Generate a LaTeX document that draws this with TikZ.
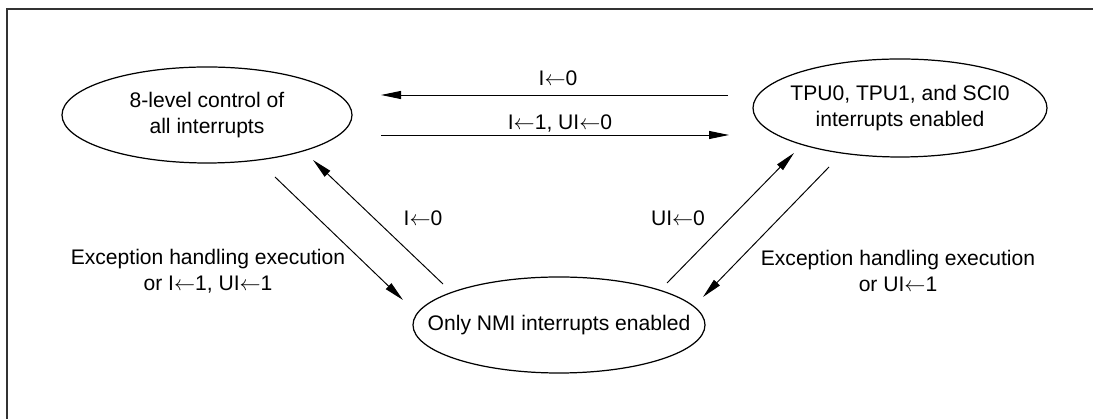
\documentclass[tikz,border=0pt]{standalone}
\usepackage{fontspec}
\setmainfont{Liberation Sans}
\usepackage{tikz}
\usetikzlibrary{arrows.meta,positioning,shapes,shapes.geometric,calc}

\newcommand{\asg}{\ensuremath{\leftarrow}}

\tikzset{
  lbl/.style={align=center, inner sep=0pt, font=\fontsize{12}{14.8}\selectfont},
  ring/.style={line width=0.7pt},
  trans/.style={line width=0.55pt, -{Triangle[length=4mm,width=1.6mm]}},
}

\begin{document}
\begin{tikzpicture}
\useasboundingbox (0,0) rectangle (21.86,8.38);
\draw[line width=0.8pt, black!80] (0.14,0) -- (0.14,8.2) -- (21.86,8.2);

\node[lbl] (allint) at (4.14,6.08) {8-level control of\\all interrupts};
\draw[ring] (allint.center) ellipse (2.9cm and 0.96cm);

\node[lbl] (tpusci) at (18.0,6.22) {TPU0, TPU1, and SCI0\\interrupts enabled};
\draw[ring] (tpusci.center) ellipse (2.94cm and 0.98cm);

\node[lbl] (nmi) at (11.18,1.88) {Only NMI interrupts enabled};
\draw[ring] (nmi.center) ellipse (2.92cm and 0.96cm);

% top pair of arrows
\draw[trans] ($(tpusci.center)+(-3.44,0.26)$) -- ($(allint.center)+(3.48,0.40)$);
\draw[trans] ($(allint.center)+(3.48,-0.40)$) -- ($(tpusci.center)+(-3.42,-0.54)$);
\node[lbl] (set0) at (11.16,6.82) {I\asg0};
\node[lbl] (set1) at (11.20,5.92) {I\asg1, UI\asg0};

% left side
\draw[trans] ($(allint.center)+(1.36,-1.24)$) -- ($(nmi.center)+(-3.12,0.50)$);
\draw[trans] ($(nmi.center)+(-2.32,0.82)$) -- ($(allint.center)+(2.12,-0.90)$);
\node[lbl] (clri) at (8.46,4.02) {I\asg0};
\node[lbl] (excl) at (4.16,2.96) {Exception handling execution\\or I\asg1, UI\asg1};

% right side
\draw[trans] ($(nmi.center)+(2.16,0.84)$) -- ($(tpusci.center)+(-2.12,-0.90)$);
\draw[trans] ($(tpusci.center)+(-1.42,-1.18)$) -- ($(nmi.center)+(2.88,0.56)$);
\node[lbl] (clrui) at (13.56,4.02) {UI\asg0};
\node[lbl] (excr) at (17.96,2.96) {Exception handling execution\\or UI\asg1};

\end{tikzpicture}
\end{document}
